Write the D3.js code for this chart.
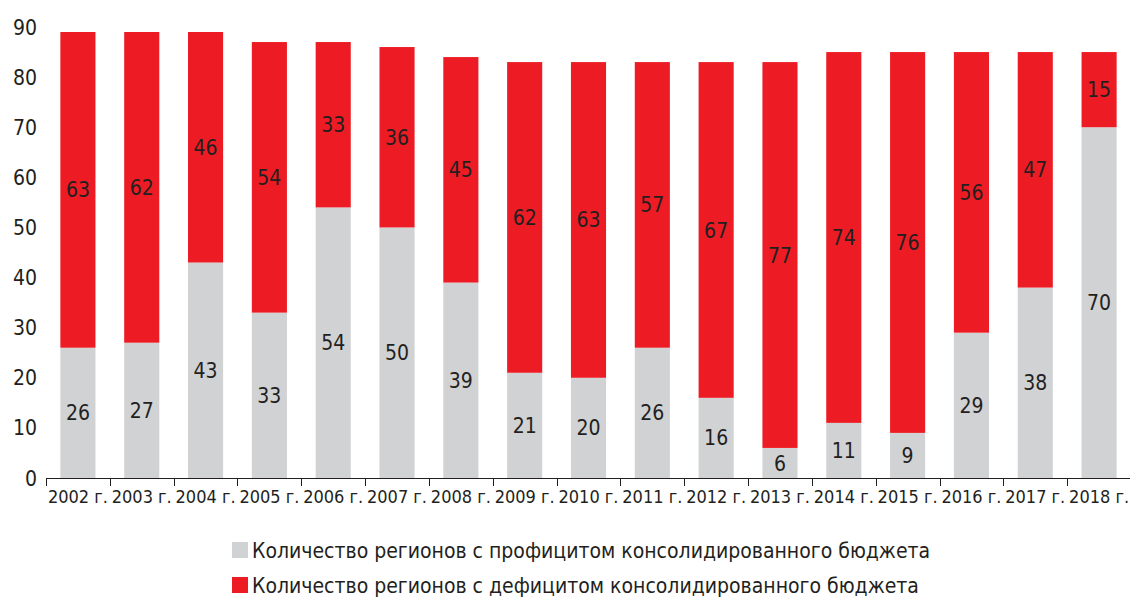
<!DOCTYPE html>
<html>
<head>
<meta charset="utf-8">
<script src="https://cdn.jsdelivr.net/npm/d3@7"></script>
<style>
  body { margin: 0; background: #fff; }
  svg text { font-family: "Liberation Sans Narrow", "DejaVu Sans Condensed", "Open Sans", sans-serif; fill: #231f20; }
</style>
</head>
<body>
<div id="chart"></div>
<script>
const years = ["2002 г.", "2003 г.", "2004 г.", "2005 г.", "2006 г.", "2007 г.", "2008 г.", "2009 г.", "2010 г.",
  "2011 г.", "2012 г.", "2013 г.", "2014 г.", "2015 г.", "2016 г.", "2017 г.", "2018 г."];
const surplus = [26, 27, 43, 33, 54, 50, 39, 21, 20, 26, 16, 6, 11, 9, 29, 38, 70];
const deficit = [63, 62, 46, 54, 33, 36, 45, 62, 63, 57, 67, 77, 74, 76, 56, 47, 15];
const yTicks = [0, 10, 20, 30, 40, 50, 60, 70, 80, 90];
const seriesNames = [
  "Количество регионов с профицитом консолидированного бюджета",
  "Количество регионов с дефицитом консолидированного бюджета"
];
const colors = ["#d1d2d4", "#ed1c24"];

const width = 1130, height = 598;

const svg = d3.select("#chart").append("svg")
  .attr("width", width)
  .attr("height", height);

const x = d3.scaleBand()
  .domain(years)
  .range([46, 1131])
  .paddingInner(0.45)
  .paddingOuter(0.225);

const y = d3.scaleLinear()
  .domain([0, 90])
  .range([478, 27]);

// stacked rows
const rows = years.map((yr, i) => ({ year: yr, surplus: surplus[i], deficit: deficit[i] }));
const stack = d3.stack().keys(["surplus", "deficit"]);
const layers = stack(rows);

svg.append("g")
  .selectAll("g")
  .data(layers)
  .join("g")
  .attr("fill", (d, i) => colors[i])
  .selectAll("rect")
  .data(d => d)
  .join("rect")
  .attr("x", d => x(d.data.year))
  .attr("y", d => y(d[1]))
  .attr("width", x.bandwidth())
  .attr("height", d => y(d[0]) - y(d[1]));

// value labels in the middle of each segment
svg.append("g")
  .selectAll("g")
  .data(layers)
  .join("g")
  .selectAll("text")
  .data(d => d)
  .join("text")
  .attr("x", d => x(d.data.year) + x.bandwidth() / 2)
  .attr("y", d => y((d[0] + d[1]) / 2))
  .attr("dy", "0.36em")
  .attr("text-anchor", "middle")
  .style("font-size", "21px")
  .text(d => d[1] - d[0]);

// x axis with ticks at band edges
const xAxis = svg.append("g");
xAxis.append("line")
  .attr("x1", 46).attr("x2", 1131)
  .attr("y1", 478.5).attr("y2", 478.5)
  .attr("stroke", "#231f20").attr("stroke-width", 1);
xAxis.selectAll("line.tick")
  .data(years)
  .join("line")
  .attr("class", "tick")
  .attr("x1", d => Math.round(x(d) - x.step() * x.paddingInner() / 2) + 0.5)
  .attr("x2", d => Math.round(x(d) - x.step() * x.paddingInner() / 2) + 0.5)
  .attr("y1", 478).attr("y2", 486)
  .attr("stroke", "#231f20");
xAxis.selectAll("text")
  .data(years)
  .join("text")
  .attr("x", d => x(d) + x.bandwidth() / 2)
  .attr("y", 497)
  .attr("dy", "0.36em")
  .attr("text-anchor", "middle")
  .style("font-size", "18px")
  .text(d => d);

// y axis labels only
svg.append("g")
  .selectAll("text")
  .data(yTicks)
  .join("text")
  .attr("x", 37)
  .attr("y", d => y(d))
  .attr("dy", "0.36em")
  .attr("text-anchor", "end")
  .style("font-size", "21px")
  .text(d => d);

// legend
const legend = svg.append("g");
seriesNames.forEach((name, i) => {
  const ly = 550 + i * 35;
  legend.append("rect")
    .attr("x", 232).attr("y", ly - 8)
    .attr("width", 16).attr("height", 16)
    .attr("fill", colors[i]);
  legend.append("text")
    .attr("x", 252).attr("y", ly)
    .attr("dy", "0.36em")
    .style("font-size", "21px")
    .text(name);
});
</script>
</body>
</html>
